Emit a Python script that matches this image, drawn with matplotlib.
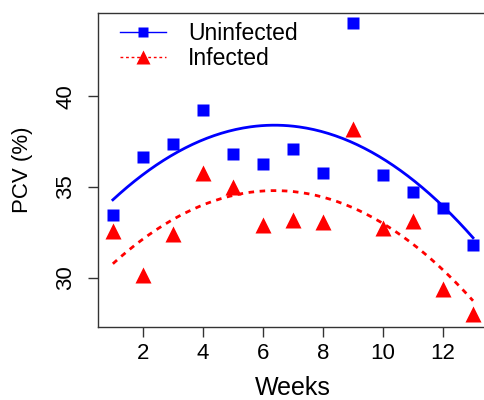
import numpy as np
import matplotlib.pyplot as plt
from matplotlib.lines import Line2D

plt.rcParams['font.family'] = ['Liberation Sans', 'DejaVu Sans']

weeks = np.arange(1, 14)
uninfected = [33.46, 36.67, 37.38, 39.27, 36.83, 36.28, 37.10, 35.78, 44.02, 35.67, 34.70, 33.85, 31.80]
infected = [32.58, 30.15, 32.40, 35.78, 35.00, 32.90, 33.17, 33.06, 38.20, 32.76, 33.13, 29.38, 28.00]

fig = plt.figure(figsize=(4.85, 4.0), dpi=100)
ax = fig.add_axes([0.203, 0.183, 0.802, 0.785])

# quadratic trend for each group
xs = np.linspace(1, 13, 200)
fit_u = np.polyval(np.polyfit(weeks, uninfected, 2), xs)
fit_i = np.polyval(np.polyfit(weeks, infected, 2), xs)

ax.plot(xs, fit_u, color='#0000ff', lw=2)
ax.plot(xs, fit_i, color='#ff0000', lw=2, linestyle=(0, (2, 2)))
ax.plot(weeks, uninfected, 's', color='#0000ff', ms=9, mec='none', clip_on=False)
ax.plot(weeks, infected, '^', color='#ff0000', ms=12, mec='none', clip_on=False)

ax.set_xlim(0.52, 13.48)
ax.set_ylim(27.3, 44.6)
ax.set_xticks([2, 4, 6, 8, 10, 12])
ax.set_yticks([30, 35, 40])
for s in ax.spines.values():
    s.set_color('#333333')
    s.set_linewidth(1)
ax.tick_params(length=7, width=1, color='#333333', labelsize=16, pad=5)
ax.tick_params(axis='y', pad=9)
for t in ax.get_yticklabels():
    t.set_rotation(90)
    t.set_va('center')

ax.set_xlabel('Weeks', fontsize=18, labelpad=8)
ax.set_ylabel('PCV (%)', fontsize=16, labelpad=16)

handles = [
    Line2D([], [], color='#0000ff', lw=1, marker='s', ms=7, mec='none'),
    Line2D([], [], color='#ff0000', lw=1, linestyle=(0, (2, 2)), marker='^', ms=10, mec='none'),
]
ax.legend(handles, ['Uninfected', 'Infected'], loc='upper left', frameon=False,
          fontsize=16.5, handlelength=2.0, handletextpad=0.95, labelspacing=0.1,
          borderaxespad=0, bbox_to_anchor=(0.033, 1.0))

fig.savefig('out.png', dpi=100)
